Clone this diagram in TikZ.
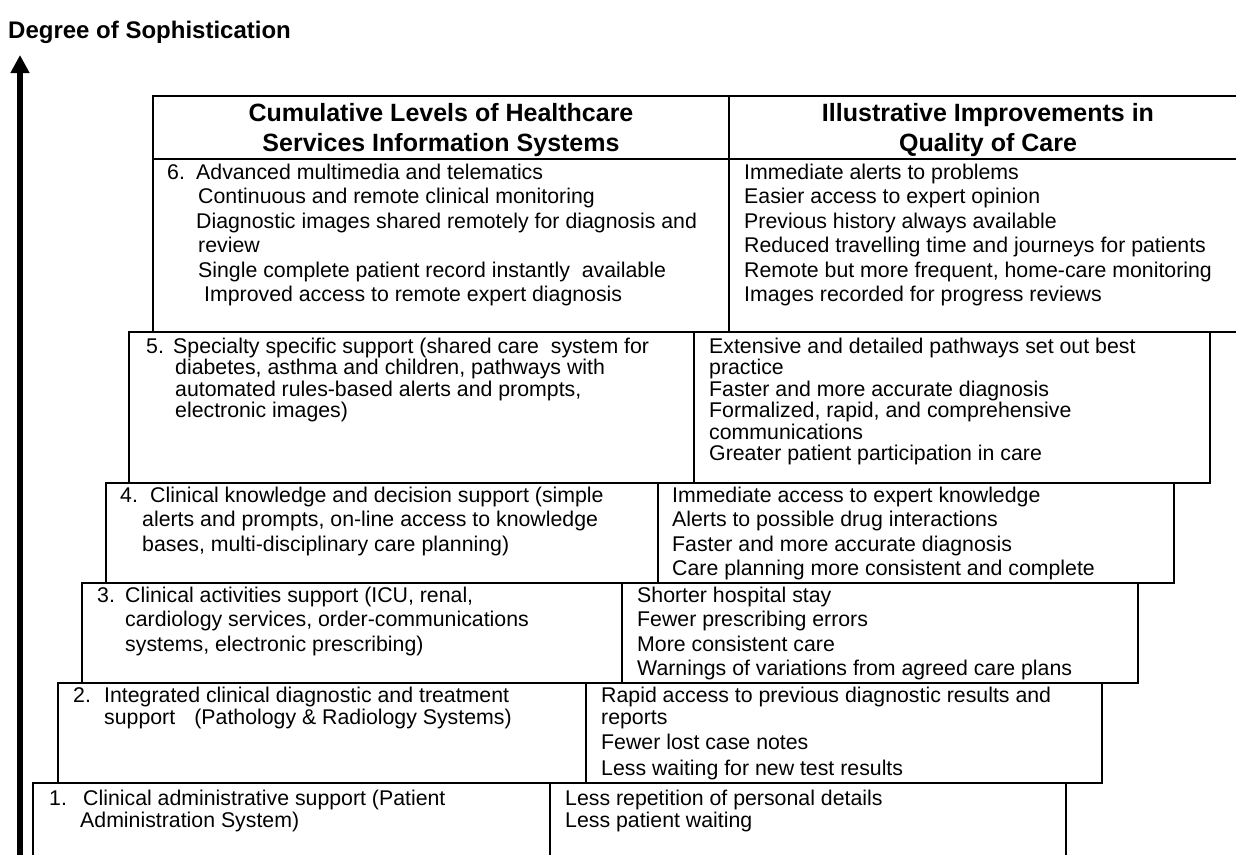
\documentclass[tikz,border=0pt]{standalone}
\usepackage{fontspec}
\setmainfont{Liberation Sans}
\usetikzlibrary{arrows.meta}
\newcommand\bodyfont{\fontsize{21.3}{24}\selectfont}
\newcommand\headfont{\fontsize{25}{30}\selectfont\bfseries}
\newcommand\titlefont{\fontsize{24}{28}\selectfont\bfseries}
\begin{document}
\begin{tikzpicture}[x=1pt,y=-1pt,
  txt/.style={anchor=base west,inner sep=0pt,font=\bodyfont},
  hd/.style={anchor=base,inner sep=0pt,font=\headfont},
  frame/.style={draw=black,line width=2pt},
  axis/.style={line width=5.3pt,-{Triangle[width=18pt,length=18pt]}}]
\useasboundingbox (0,0) rectangle (1236,854);
\begin{scope}
\clip (0,0) rectangle (1236,854);
% boxes
\draw[frame] (153,96) rectangle (1246,332);
\draw[frame] (153,159) -- (1246,159);
\draw[frame] (729,96) -- (729,332);
\draw[frame] (129,332) rectangle (1210,483);
\draw[frame] (694,332) -- (694,483);
\draw[frame] (106,483) rectangle (1174,583);
\draw[frame] (658,483) -- (658,583);
\draw[frame] (82,583) rectangle (1138,683);
\draw[frame] (622,583) -- (622,683);
\draw[frame] (58,683) rectangle (1102,783);
\draw[frame] (586,683) -- (586,783);
\draw[frame] (33,783) rectangle (1066,880);
\draw[frame] (550,783) -- (550,880);
% axis
\coordinate (axbot) at (20,880);
\coordinate (axtop) at (20,55);
\draw[axis] (axbot) -- (axtop);
\end{scope}
\node[anchor=base west,inner sep=0pt,font=\titlefont] (title) at (8,38) {Degree of Sophistication};
% header
\node[hd] (h1a) at (441,121) {Cumulative Levels of Healthcare};
\node[hd] (h1b) at (441,151) {Services Information Systems};
\node[hd] (h2a) at (988,121) {Illustrative Improvements in};
\node[hd] (h2b) at (988,151) {Quality of Care};
% level 6
\node[txt] (n6) at (167,179) {6.};
\node[txt] (l6a) at (196,179) {Advanced multimedia and telematics};
\node[txt] (l6b) at (198,203.5) {Continuous and remote clinical monitoring};
\node[txt] (l6c) at (196,228) {Diagnostic images shared remotely for diagnosis and};
\node[txt] (l6d) at (198,252.5) {review};
\node[txt] (l6e) at (198,277) {Single complete patient record instantly\hspace{0.28em} available};
\node[txt] (l6f) at (204,301.5) {Improved access to remote expert diagnosis};
\node[txt] (r6a) at (744,179) {Immediate alerts to problems};
\node[txt] (r6b) at (744,203.5) {Easier access to expert opinion};
\node[txt] (r6c) at (744,228) {Previous history always available};
\node[txt] (r6d) at (744,252.5) {Reduced travelling time and journeys for patients};
\node[txt] (r6e) at (744,277) {Remote but more frequent, home-care monitoring};
\node[txt] (r6f) at (744,301.5) {Images recorded for progress reviews};
% level 5
\node[txt] (n5) at (146,353) {5.};
\node[txt] (l5a) at (173,353) {Specialty specific support (shared care\hspace{0.28em} system for};
\node[txt] (l5b) at (175,374.5) {diabetes, asthma and children, pathways with};
\node[txt] (l5c) at (175,396) {automated rules-based alerts and prompts,};
\node[txt] (l5d) at (175,417.5) {electronic images)};
\node[txt] (r5a) at (709,353) {Extensive and detailed pathways set out best};
\node[txt] (r5b) at (709,374.5) {practice};
\node[txt] (r5c) at (709,396) {Faster and more accurate diagnosis};
\node[txt] (r5d) at (709,417.5) {Formalized, rapid, and comprehensive};
\node[txt] (r5e) at (709,439) {communications};
\node[txt] (r5f) at (709,460.5) {Greater patient participation in care};
% level 4
\node[txt] (n4) at (120,502) {4.};
\node[txt] (l4a) at (150,502) {Clinical knowledge and decision support (simple};
\node[txt] (l4b) at (142,526.5) {alerts and prompts, on-line access to knowledge};
\node[txt] (l4c) at (142,551) {bases, multi-disciplinary care planning)};
\node[txt] (r4a) at (672,502) {Immediate access to expert knowledge};
\node[txt] (r4b) at (672,526.5) {Alerts to possible drug interactions};
\node[txt] (r4c) at (672,551) {Faster and more accurate diagnosis};
\node[txt] (r4d) at (672,575.5) {Care planning more consistent and complete};
% level 3
\node[txt] (n3) at (97,602) {3.};
\node[txt] (l3a) at (125,602) {Clinical activities support (ICU, renal,};
\node[txt] (l3b) at (125,626.5) {cardiology services, order-communications};
\node[txt] (l3c) at (125,651) {systems, electronic prescribing)};
\node[txt] (r3a) at (637,602) {Shorter hospital stay};
\node[txt] (r3b) at (637,626.5) {Fewer prescribing errors};
\node[txt] (r3c) at (637,651) {More consistent care};
\node[txt] (r3d) at (637,675.5) {Warnings of variations from agreed care plans};
% level 2
\node[txt] (n2) at (73,702) {2.};
\node[txt] (l2a) at (104,702) {Integrated clinical diagnostic and treatment};
\node[txt] (l2b) at (104,724) {support\hspace{0.9em}(Pathology \& Radiology Systems)};
\node[txt] (r2a) at (601,702) {Rapid access to previous diagnostic results and};
\node[txt] (r2b) at (601,724) {reports};
\node[txt] (r2c) at (601,749.5) {Fewer lost case notes};
\node[txt] (r2d) at (601,775) {Less waiting for new test results};
% level 1
\node[txt] (n1) at (49,805) {1.};
\node[txt] (l1a) at (83,805) {Clinical administrative support (Patient};
\node[txt] (l1b) at (80,827) {Administration System)};
\node[txt] (r1a) at (565,805) {Less repetition of personal details};
\node[txt] (r1b) at (565,827) {Less patient waiting};
\end{tikzpicture}
\end{document}
